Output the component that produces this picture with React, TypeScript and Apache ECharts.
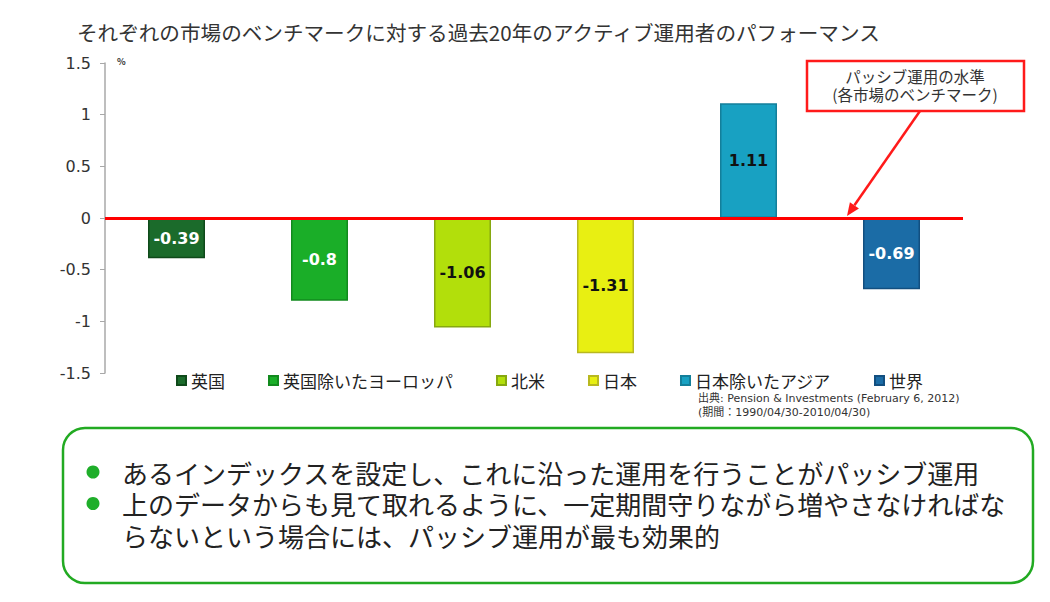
import React, { useEffect, useRef } from "react";
import * as echarts from "echarts";

const categories = ["英国", "英国除いたヨーロッパ", "北米", "日本", "日本除いたアジア", "世界"];
const values = [-0.39, -0.8, -1.06, -1.31, 1.11, -0.69];
const barColors = ["#1b6b2b", "#1aae28", "#b2df0b", "#e8ef12", "#18a1c2", "#1b6ca6"];
const borderColors = ["#0f4a1a", "#128a1e", "#86a810", "#b8b820", "#137f9a", "#124f80"];
const labelColors = ["#ffffff", "#ffffff", "#111111", "#111111", "#111111", "#ffffff"];
const yMin = -1.5;
const yMax = 1.5;
const yStep = 0.5;

const titleText = "それぞれの市場のベンチマークに対する過去20年のアクティブ運用者のパフォーマンス";
const unitText = "%";
const calloutLines = ["パッシブ運用の水準", "(各市場のベンチマーク)"];
const sourceLines = ["出典: Pension & Investments (February 6, 2012)", "(期間：1990/04/30-2010/04/30)"];
const bulletLines = [
  "あるインデックスを設定し、これに沿った運用を行うことがパッシブ運用",
  "上のデータからも見て取れるように、一定期間守りながら増やさなければな",
  "らないという場合には、パッシブ運用が最も効果的",
];
const bulletFlags = [true, true, false];

const JP = "'Noto Sans CJK JP', 'Noto Sans', sans-serif";
const LATIN = "'DejaVu Sans', Verdana, 'Noto Sans CJK JP', sans-serif";

export default function App() {
  const ref = useRef<HTMLDivElement>(null);

  useEffect(() => {
    if (!ref.current) return;
    const chart = echarts.init(ref.current, null, { renderer: "svg" });

    const series: any[] = categories.map((name, i) => ({
      type: "bar",
      name,
      stack: "all",
      barWidth: 57,
      data: values.map((v, j) => (j === i ? v : null)),
      itemStyle: { color: barColors[i], borderColor: borderColors[i], borderWidth: 1.5 },
      label: {
        show: true,
        position: "inside",
        color: labelColors[i],
        fontFamily: LATIN,
        fontWeight: "bold",
        fontSize: 16,
        formatter: (p: any) => String(p.value),
      },
    }));
    series[0].markLine = {
      silent: true,
      symbol: ["none", "none"],
      label: { show: false },
      lineStyle: { color: "#ff0000", width: 3, type: "solid" },
      data: [{ yAxis: 0 }],
      z: 10,
    };

    chart.setOption({
      animation: false,
      backgroundColor: "#ffffff",
      title: {
        text: titleText,
        left: 77,
        top: 22,
        padding: 0,
        textStyle: { fontSize: 20.6, fontWeight: "normal", color: "#333", fontFamily: JP },
      },
      legend: {
        data: categories,
        left: 176,
        top: 372,
        padding: 0,
        icon: "rect",
        itemWidth: 9,
        itemHeight: 9,
        itemGap: 43,
        textStyle: { fontSize: 17, lineHeight: 17, color: "#222", fontFamily: JP },
      },
      grid: { left: 105, right: 87, top: 63, bottom: 229, containLabel: false },
      xAxis: {
        type: "category",
        data: categories,
        axisLine: { show: false },
        axisTick: { show: false },
        axisLabel: { show: false },
        splitLine: { show: false },
      },
      yAxis: {
        type: "value",
        min: yMin,
        max: yMax,
        interval: yStep,
        axisLine: { show: true, lineStyle: { color: "#a8a8a8", width: 1.5 } },
        axisTick: { show: true, length: 5, lineStyle: { color: "#a8a8a8" } },
        axisLabel: {
          margin: 14,
          fontSize: 16,
          color: "#333",
          fontFamily: LATIN,
          formatter: (v: number) => String(v),
        },
        splitLine: { show: false },
      },
      series,
    });

    const y0 = chart.convertToPixel({ yAxisIndex: 0 }, 0) as number;
    const tip = [847, y0 - 2];
    const start = [920, 111];
    const dx = tip[0] - start[0];
    const dy = tip[1] - start[1];
    const len = Math.sqrt(dx * dx + dy * dy);
    const ux = dx / len;
    const uy = dy / len;
    const bx = tip[0] - 13 * ux;
    const by = tip[1] - 13 * uy;
    const px = -uy;
    const py = ux;

    const lineGap = 31.5;
    const firstY = 472;

    const graphics: any[] = [
      {
        type: "text",
        left: 117,
        top: 57,
        style: { text: unitText, fontSize: 9, fontWeight: "bold", fill: "#333", fontFamily: JP },
      },
      {
        type: "line",
        z: 20,
        shape: { x1: start[0], y1: start[1], x2: bx, y2: by },
        style: { stroke: "#ff1a1a", lineWidth: 2.5 },
      },
      {
        type: "polygon",
        z: 20,
        shape: {
          points: [
            [tip[0], tip[1]],
            [bx + 5.5 * px, by + 5.5 * py],
            [bx - 5.5 * px, by - 5.5 * py],
          ],
        },
        style: { fill: "#ff1a1a" },
      },
      {
        type: "rect",
        z: 20,
        shape: { x: 807, y: 61, width: 217, height: 50 },
        style: { fill: "#ffffff", stroke: "#ff1a1a", lineWidth: 2.5 },
      },
      {
        type: "text",
        z: 21,
        x: 915,
        y: 85,
        style: {
          text: calloutLines.join("\n"),
          fontSize: 15.5,
          lineHeight: 18,
          fill: "#333",
          fontFamily: JP,
          align: "center",
          verticalAlign: "middle",
        },
      },
      {
        type: "text",
        x: 698,
        y: 405,
        style: {
          text: sourceLines.join("\n"),
          fontSize: 11,
          lineHeight: 14,
          fill: "#333",
          fontFamily: LATIN,
          verticalAlign: "middle",
        },
      },
      {
        type: "rect",
        shape: { x: 63, y: 428, width: 970, height: 155, r: 22 },
        style: { fill: "#ffffff", stroke: "#22aa22", lineWidth: 2.5 },
      },
      {
        type: "text",
        x: 122,
        y: firstY - lineGap / 2,
        style: {
          text: bulletLines.join("\n"),
          fontSize: 26,
          lineHeight: lineGap,
          fill: "#222",
          fontFamily: JP,
          verticalAlign: "top",
        },
      },
      ...bulletFlags
        .map((f, i) => ({ f, i }))
        .filter((o) => o.f)
        .map((o) => ({
          type: "circle",
          shape: { cx: 93, cy: firstY + o.i * lineGap, r: 6.5 },
          style: { fill: "#1fae2a" },
        })),
    ];

    chart.setOption({ graphic: graphics });

    return () => chart.dispose();
  }, []);

  return (
    <div
      ref={ref}
      style={{ position: "fixed", left: 0, top: 0, width: 1050, height: 602, background: "#fff" }}
    />
  );
}
